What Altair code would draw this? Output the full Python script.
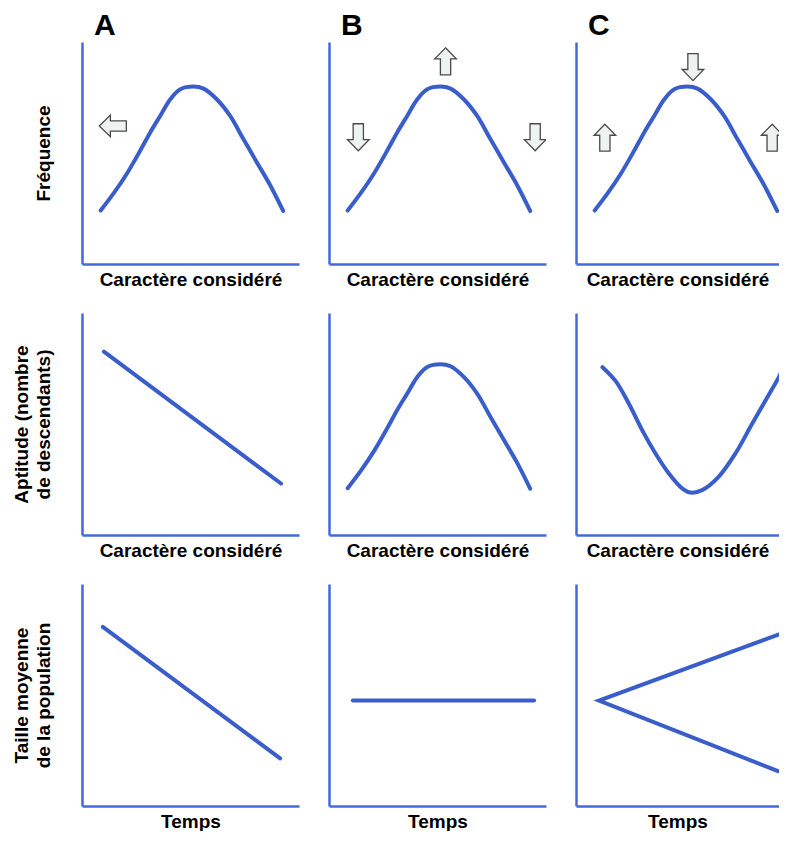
import altair as alt
import pandas as pd

# ---------------- data (0-100 panel units) ----------------
bell_x = [8.6, 14.7, 20.8, 26.9, 31.5, 36.1, 40.7, 45.3, 51.4, 56.0, 62.1, 68.2, 74.3, 80.4, 86.6, 92.7]
bell_y = [24.1, 32.0, 40.9, 51.2, 59.4, 66.8, 74.2, 78.7, 79.9, 79.0, 74.2, 66.8, 56.4, 46.1, 35.7, 23.9]
bell2_y = [21.1, 29.0, 37.9, 48.2, 56.4, 63.8, 71.2, 75.7, 76.9, 76.0, 71.2, 63.8, 53.4, 43.1, 32.7, 20.9]

valley_x = [12.2, 18.3, 24.5, 30.6, 36.7, 42.8, 48.9, 52.8, 58.1, 65.7, 73.4, 81.1, 87.2, 93.3, 94.8]
valley_y = [75.6, 69.3, 58.9, 47.0, 36.6, 27.7, 21.0, 19.1, 20.2, 26.2, 36.6, 50.0, 60.4, 70.8, 73.8]

fit_line_x = [10.1, 91.7]
fit_line_y = [82.6, 23.2]

size_down_x = [9.6, 91.3]
size_down_y = [80.7, 21.5]

size_flat_x = [11.0, 94.5]
size_flat_y = [47.5, 47.5]

fork_x = [95.4, 10.6, 93.1]
fork_y = [78.0, 47.5, 15.7]

# arrows: panel, x, y, direction angle (0 = up)
arrow_panel = ["A", "B", "B", "B", "C", "C", "C"]
arrow_x = [14.2, 53.7, 13.5, 95.0, 53.9, 13.3, 90.4]
arrow_y = [62.2, 91.3, 57.1, 57.1, 88.7, 56.9, 56.9]
arrow_angle = [270, 0, 180, 180, 180, 0, 0]

col_titles = ["A", "B", "C"]
x_titles = ["Caractère considéré", "Caractère considéré", "Temps"]
y_titles = [["Fréquence"], ["Aptitude (nombre", "de descendants)"],
            ["Taille moyenne", "de la population"]]

# ---------------- styling ----------------
CURVE = "#3a5dcc"
AXIS = "#4468dc"
FONT = "Liberation Sans"
W, H = 217, 222
C_W = 203
ARROW = "M0,-1 L0.8,-0.18 L0.38,-0.18 L0.38,1 L-0.38,1 L-0.38,-0.18 L-0.8,-0.18 Z"


def line_df(xs, ys):
    return pd.DataFrame({"x": xs, "y": ys, "o": list(range(len(xs)))})


arrows_df = pd.DataFrame({"panel": arrow_panel, "x": arrow_x, "y": arrow_y,
                          "a": arrow_angle})


def panel(col, row, curves, with_arrows=False):
    width = C_W if col == 2 else W
    xmax = 100.0 * width / W
    xs = alt.Scale(domain=[0, xmax], nice=False, zero=False)
    ys = alt.Scale(domain=[0, 100], nice=False, zero=False)
    ytitle = y_titles[row] if col == 0 else None
    yaxis = alt.Axis(title=ytitle) if ytitle else alt.Axis(title=None)
    layers = []
    for i, (df, interp) in enumerate(curves):
        enc = dict(
            x=alt.X("x:Q", scale=xs, axis=alt.Axis(title=x_titles[row]) if i == 0 else None),
            y=alt.Y("y:Q", scale=ys, axis=yaxis if i == 0 else None),
            order="o:Q",
        )
        layers.append(
            alt.Chart(df).mark_line(color=CURVE, strokeWidth=4, interpolate=interp,
                                    clip=True, strokeCap="round").encode(**enc)
        )
    if with_arrows:
        adf = arrows_df[arrows_df["panel"] == col_titles[col]]
        layers.append(
            alt.Chart(adf).mark_point(shape=ARROW, filled=True, fill="#eef3f2",
                                      stroke="#4a4a4a", strokeWidth=1.3, size=729,
                                      opacity=1, clip=True).encode(
                x=alt.X("x:Q", scale=xs),
                y=alt.Y("y:Q", scale=ys),
                angle=alt.Angle("a:Q", scale=None),
            )
        )
    ch = alt.layer(*layers).properties(width=width, height=H)
    if row == 0:
        ch = ch.properties(title=alt.TitleParams(
            col_titles[col], anchor="start", frame="group", fontSize=30,
            fontWeight="bold", font=FONT, dx=12, offset=1, color="black"))
    return ch


panels = [
    panel(0, 0, [(line_df(bell_x, bell_y), "catmull-rom")], True),
    panel(1, 0, [(line_df(bell_x, bell_y), "catmull-rom")], True),
    panel(2, 0, [(line_df(bell_x, bell_y), "catmull-rom")], True),
    panel(0, 1, [(line_df(fit_line_x, fit_line_y), "linear")]),
    panel(1, 1, [(line_df(bell_x, bell2_y), "catmull-rom")]),
    panel(2, 1, [(line_df(valley_x, valley_y), "catmull-rom")]),
    panel(0, 2, [(line_df(size_down_x, size_down_y), "linear")]),
    panel(1, 2, [(line_df(size_flat_x, size_flat_y), "linear")]),
    panel(2, 2, [(line_df(fork_x, fork_y), "linear")]),
]

chart = alt.concat(*panels, columns=3, spacing={"row": 24, "column": 30}).properties(
    padding={"left": 4, "top": 3, "right": 0, "bottom": 0}
).configure_view(stroke=None).configure_axis(
    domainColor=AXIS, domainWidth=2.5, ticks=False, labels=False, grid=False,
    titleFont=FONT, titleFontSize=19, titleFontWeight="bold", titleColor="black",
    titlePadding=6, titleLineHeight=22,
).configure_axisY(titlePadding=29)

chart.save("out.html", embed_options={"renderer": "svg", "actions": False})
